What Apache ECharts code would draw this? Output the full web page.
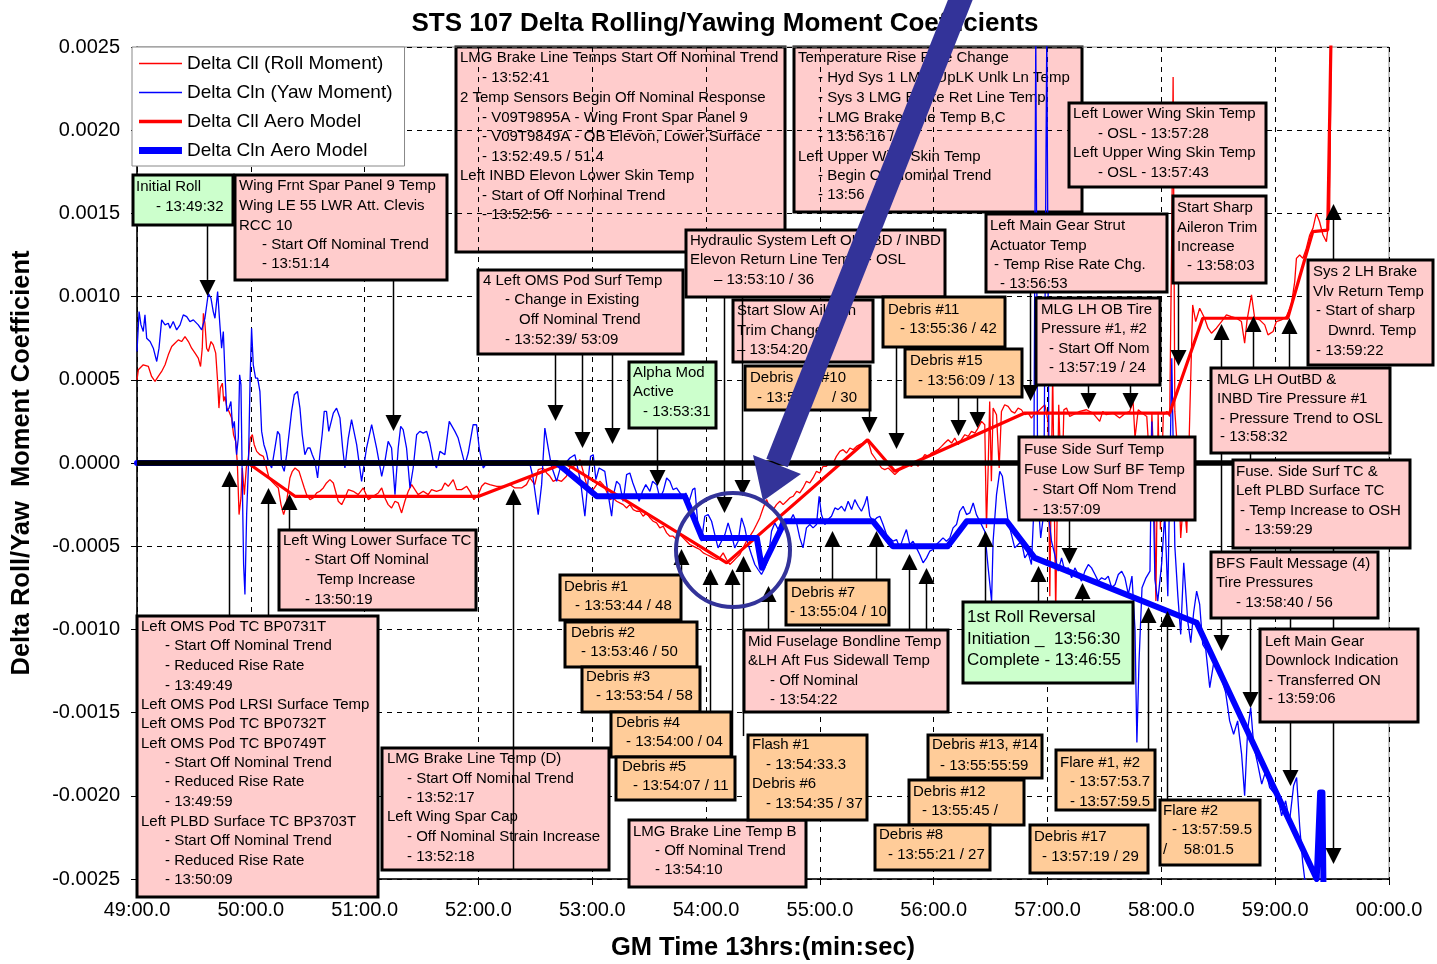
<!DOCTYPE html>
<html>
<head>
<meta charset="utf-8">
<script src="https://cdn.jsdelivr.net/npm/echarts@6.0.0/dist/echarts.min.js"></script>
<style>
html, body { margin: 0; padding: 0; background: #fff; }
#chart { width: 1437px; height: 964px; }
</style>
</head>
<body>
<div id="chart"></div>
<script>
// x values: seconds after 13:49:00 ; y values: units of 1e-4
var Y_UNIT = 1e-4;
var FONT = '"Liberation Sans", Arial, sans-serif';

var xTickLabels = ['49:00.0', '50:00.0', '51:00.0', '52:00.0', '53:00.0', '54:00.0',
    '55:00.0', '56:00.0', '57:00.0', '58:00.0', '59:00.0', '00:00.0'];

// Delta Cll (Roll Moment) - flight data
var cllData = [
[0,5.0],[0.7,5.6],[3.3,5.9],[6,5.8],[7.7,5.2],[9.5,4.9],[11.2,5.2],[13,5.5],[14.8,5.9],[16.5,6.5],[18.3,7.0],[20,7.2],[21.8,7.4],[23.5,7.3],[25.3,7.6],[27.1,7.3],[28.8,6.9],[30.6,6.6],[32.3,6.3],[33.5,5.8],[34.4,6.9],[35,9.0],[35.8,8.4],[36.7,6.9],[37.6,6.7],[39,7.3],[40.2,7.1],[41.5,6.6],[42.5,4.9],[43.2,3.3],[43.9,4.5],[45,4.8],[45.7,3.7],[46.4,4.0],[47.4,3.3],[48.5,3.1],[49.9,2.7],[50.9,1.7],[52,1.3],[52.9,0.0],[53.8,-3.1],[54.8,-2.1],[55.5,-0.3],[56.6,-1.9],[57.6,-0.3],[58.7,0.3],[59.7,1.5],[60.8,1.7],[61.8,1.1],[63.1,0.7],[64.8,0.5],[66.6,0.4],[68.3,-0.3],[69.6,-0.9],[71,-1.1],[72.7,-1.3],[74.5,-1.5],[75.9,-2.5],[77.3,-3.1],[78.3,-2.7],[79.4,-1.9],[80.6,-0.9],[81.9,-0.5],[83.3,-0.3],[84.3,-0.2],[85.4,-0.5],[86.8,-1.0],[88.2,-1.5],[89.4,-1.9],[91.2,-2.2],[92.9,-2.1],[94.7,-1.8],[96.4,-1.7],[98.2,-1.5],[99.9,-1.2],[101.7,-1.0],[103.5,-1.2],
[106.1,-2.3],[107.9,-2.5],[109.6,-2.1],[111.4,-1.6],[114,-1.7],[116.6,-1.9],[119.3,-1.5],[121.9,-2.2],[124.5,-2.0],[127.2,-1.8],[129,-1.5],[130.7,-2.1],[132.4,-2.5],[134.2,-2.7],[136,-2.3],[137.7,-2.4],[139.5,-3.0],[141.2,-2.3],[143,-1.7],[144.8,-1.3],[146.5,-1.6],[148.2,-1.9],[150.9,-1.7],[153.5,-1.9],[155.3,-1.6],[157.9,-1.7],[160.6,-1.6],[162.3,-1.2],[164.1,-1.4],[166.7,-1.0],[168.5,-1.6],[171.1,-1.6],[173.8,-1.4],[175.5,-1.7],[177.6,-2.2],[179.9,-1.9],[181.7,-1.4],[183.4,-1.2],[186,-1.3],[189.6,-1.4],[193.1,-1.4],[196.6,-1.3],[199.2,-1.5],[202.7,-1.5],[205.3,-1.3],[207.1,-0.9],[209.7,-1.3],[211.5,-0.4],[214.1,-0.3],[215.9,-0.6],[217.7,-0.8],[219.4,-1.1],[221.2,-1.0],[223.8,-1.1],
[226.4,-0.8],[228.2,-0.3],[229.9,-0.2],[231.7,-0.1],[233.5,0.2],[235.2,-0.5],[237,-1.3],[238.7,-1.5],[240.5,-1.6],[242.3,-1.3],[244,-1.1],[245.7,-1.3],[247.5,-1.7],[249.3,-2.2],[251,-2.1],[252.8,-2.3],[254.5,-2.4],[256.3,-2.5],[258.1,-2.7],[259.8,-2.5],[261.6,-2.8],[263.3,-2.9],[265.1,-2.9],[266.8,-3.2],[268.6,-3.0],[270.4,-3.3],[272.1,-3.5],[273.9,-3.6],[275.6,-3.9],[277.4,-3.8],[279.2,-4.2],[280.9,-4.4],[282.6,-4.4],[284.4,-4.6],[286.2,-4.3],[287.9,-4.5],[289.7,-4.7],[291.4,-4.9],[293.2,-5.0],[295,-5.1],[296.7,-5.2],[298.5,-5.4],[300.2,-5.5],[302,-5.6],[303.7,-5.7],[305.5,-5.8],[307.2,-5.7],[309,-5.4],[310.8,-5.8],[312.5,-6.1],[314.3,-5.9],[316,-5.7],[317.8,-5.5],[319.5,-5.1],[321.3,-4.7],[323.1,-4.4],[324.8,-4.1],[326.6,-3.7],[328.3,-3.3],[330.1,-2.7],[331.9,-2.2],[333.6,-2.7],[335.4,-2.8],[337.1,-2.5],[338.9,-2.3],[340.6,-2.5],[342.4,-2.3],[344.1,-2.1],
[345.9,-2.0],[347.7,-1.7],[349.4,-1.8],[351.1,-1.5],[352.9,-1.1],[354.7,-1.2],[356.4,-0.9],[358.2,-0.5],[359.9,-0.6],[361.7,-0.2],[363.4,-0.2],[365.2,0.1],[367,0.0],[368.7,0.4],[370.5,0.7],[372.2,0.8],[374,0.6],[375.8,0.9],[377.5,0.8],[379.3,1.0],[381,1.1],[382.8,1.2],[384.6,1.4],[386,1.1],[387.2,0.6],[389,0.3],[390.7,0.0],[392.5,-0.3],[394.2,-0.4],[396,-0.3],[397.8,-0.5],[399.5,-0.7],[401.3,-0.5],[403,-0.3],[404.8,0.0],[406.5,-0.1],[408.3,-0.2],[410.1,0.0],[411.8,-0.2],[413.5,0.2],[415.3,0.5],[417.1,0.4],[418.8,0.6],[420.6,0.7],[422.3,0.8],[424.1,1.0],[425.8,1.2],[427.6,1.4],[429.4,1.2],[431.1,1.5],[432.9,1.1],[434.6,1.4],[436.4,1.7],[438.2,1.6],[439.9,1.9],[441.7,1.8],[443.4,2.1],[445.2,2.5],[446.9,2.3],[447.8,-3.9],[448.7,-0.3],[449.5,3.7],[450.4,-1.1],[451.3,3.3],[453.1,2.9],[454.5,-0.3],[455.7,3.1],[457.4,3.5],[459.2,3.4],[461,3.1],[462.7,3.0],[464.5,3.3],[466.2,3.2],[468,2.9],[469.8,3.0],[471.5,2.7],[473.3,3.0],[475,3.1],[476.8,3.3],[478.6,3.5],[480.3,2.5],[481.2,-8.0],[482.7,5.5],[484.3,-9.0],[485.9,3.5],[487.5,-2.0],[488.6,3.2],[490,3.3],[491.7,2.8],[493.5,2.9],[497,3.1],[500.5,3.2],[503.9,3.0],[507.5,2.5],[509.1,3.1],[511,2.9],[514.5,3.0],[518,2.7],[521.2,3.0],[523.3,3.1],[525.1,3.7],[526.1,1.5],[527.8,3.2],[529.8,3.0],[532.3,2.8],[533.3,1.0],[533.9,-3.1],[535,3.0],[536,0.0],[537.1,-8.3],[538.3,3.0],[539.5,-4.0],[541,2.9],[542.9,3.1],[544.4,2.8],[545.5,14.0],[546.2,23.2],[547.1,3.1],[548.7,0.5],[550.2,-4.5],[551.8,-2.0],[553.4,-4.2],[555,3.0],[556.5,9.5],[558.1,8.5],[560.2,9.3],[562.8,8.7],[564.6,8.1],[566.4,7.8],[569,8.1],[571.7,8.5],[574.3,8.9],[576.9,8.8],[579.6,8.7],[582.2,8.5],[583.9,7.2],[585.2,8.6],[587.5,10.1],[589.2,8.7],[591.8,8.6],[594.5,8.3],[596.2,7.7],[598.9,7.9],[600.6,8.5],[603.3,8.6],[605.9,8.8],[608.5,9.5],[610.3,10.9],[611.2,12.3],[612.9,12.5],[614.6,12.3],[616.4,12.9],[618.2,13.7],[619.9,14.1],[621.7,15.0],[623.4,14.5],[625.2,13.7],[627,13.3],[628.7,15.0],[629.6,26.0]
];

// Delta Cln (Yaw Moment) - flight data
var clnData = [
[0,6.7],[1.1,9.1],[2.1,8.3],[3.3,7.9],[4.2,8.9],[5.1,7.5],[6.9,7.3],[8.6,6.9],[10.4,6.1],[11.6,6.9],[13,8.6],[14.8,8.3],[16.5,8.4],[17.4,8.1],[19.1,8.5],[20.9,8.0],[22.7,8.3],[24.4,8.9],[26.2,8.8],[27.9,8.5],[29.7,8.6],[32.3,8.3],[34.1,8.0],[35.8,8.7],[37.6,10.2],[39,9.9],[40.2,9.1],[41.1,8.7],[42.5,10.3],[43.7,8.3],[44.6,6.9],[45.5,7.9],[46.4,5.3],[47.3,3.1],[48.5,3.3],[49.5,3.7],[50.4,2.1],[51.3,2.5],[52.5,0.5],[53.4,1.5],[54.1,5.3],[54.8,4.7],[55.5,-1.1],[56.2,-6.1],[56.9,-7.9],[57.8,-3.1],[58.7,-0.3],[59.6,4.9],[60.4,8.1],[61.3,5.9],[62.5,5.1],[63.6,5.1],[64.8,4.3],[65.7,1.9],[66.9,1.1],[68.3,0.6],[69.2,0.1],[71,-0.3],[72.7,0.9],[74.1,1.9],[75.2,1.7],[76.3,-0.1],[77.6,-0.5],[78.9,0.5],[80.1,1.7],[81.5,3.1],[82.9,4.1],[84.6,4.3],[85.9,3.3],[87.1,1.7],[88.5,0.5],[90,0.9],[91.2,0.9],[92.4,0.5],[93.8,0.1],[95.2,-0.9],[96.4,0.5],[97.6,1.7],[98.7,3.1],[99.9,3.1],[101.1,1.9],
[103.5,3.0],[105.2,3.3],[107,2.7],[108.4,0.9],[109.6,-0.3],[111.4,1.5],[113.1,2.6],[115.8,1.1],[118.4,-1.1],[121,0.9],[123.7,2.3],[126.3,0.9],[129,-0.8],[130.7,0.1],[132.4,1.3],[134.2,0.9],[136,-1.9],[137.7,0.9],[139,2.2],[140.3,2.0],[142.1,0.9],[143.9,-1.5],[145.6,-0.3],[147.4,1.7],[149.1,1.9],[150.9,1.8],[152.7,1.9],[154.4,1.2],[156.2,0.1],[157.9,-0.3],[159.7,0.7],[162.3,0.5],[164.6,2.5],[167.6,1.9],[169.3,1.5],[171.1,0.7],[172.9,-0.1],[174.6,0.6],[177.2,2.3],[179,2.3],[180.4,0.9],[182.5,-0.3],[184.5,0],[195,0],[207,0],[208.8,-0.9],[211.5,-3.1],[213.3,-1.3],[215,2.1],[216.8,0.9],[218.5,-0.2],[221.2,-1.1],[222.9,-0.4],
[228.2,0.3],[230.8,0.5],[233.8,-1.1],[236.1,-3.2],[237.4,-1.5],[239.1,0.4],[240.5,0.5],[241.9,-1.0],[243.6,-0.3],[246.6,-0.5],[248.4,-1.9],[250.2,-3.2],[251.4,-1.8],[252.8,-1.1],[254.5,-1.3],[256.3,-2.3],[258.1,-0.7],[259.8,-0.6],[261.4,-1.2],[263,-1.7],[264.7,-2.3],[266.5,-1.7],[268.2,-1.3],[270.4,-1.7],[271.8,-1.1],[273.9,-1.3],[275.6,-2.1],[277.4,-1.7],[279.2,-0.9],[280.9,-1.1],[282.6,-1.6],[284.4,-1.5],[286.2,-1.8],[287.9,-2.1],[289.3,-1.8],[291.1,-2.3],[292.9,-1.6],[294.1,-1.5],[295.8,-3.9],[297.6,-4.7],[299.3,-3.2],[301.1,-3.1],[302.9,-3.5],[304.6,-4.3],[306.3,-5.1],[308.1,-4.7],[309.9,-4.3],[311.6,-3.6],[313.4,-4.3],[315.1,-5.1],[316.9,-4.7],[318.7,-3.3],[320.4,-3.9],[322.2,-4.9],[323.9,-5.5],[325.7,-6.1],[327.4,-6.4],[329.2,-6.7],[331,-6.3],[332.7,-5.8],[334.5,-4.1],[336.2,-3.6],[338,-4.0],[339.7,-3.5],[342.4,-3.6],[344.1,-3.5],
[345.9,-3.1],[347.7,-3.6],[349.4,-4.5],[351.1,-5.1],[352.9,-3.9],[354.7,-3.7],[356.4,-3.9],[358.2,-3.7],[359.6,-2.0],[360.8,-3.1],[362.6,-3.7],[364.3,-3.4],[366.1,-3.2],[367.9,-2.7],[369.6,-2.8],[371.4,-2.6],[373.1,-2.9],[374.9,-2.3],[376.7,-2.8],[378.4,-2.2],[380.2,-2.6],[381.9,-2.9],[383.5,-2.5],[384.9,-2.0],[386.3,-3.2],[388.1,-3.5],[389.9,-3.3],[391.6,-3.2],[393.3,-3.7],[395.1,-4.3],[396.8,-4.5],[398.6,-4.7],[400.4,-4.6],[402.1,-5.1],[403.9,-4.5],[405.6,-4.0],[407.4,-4.9],[409.1,-4.7],[410.9,-5.1],[412.6,-5.5],[414.4,-6.0],[416.2,-5.7],[417.9,-5.3],[419.7,-5.2],[421.4,-4.9],[423.2,-4.7],[424.9,-4.5],[426.7,-4.7],[428.5,-4.5],[430.2,-3.9],[432,-3.7],[433.7,-2.9],[435.5,-2.6],[437.3,-3.1],[439,-3.0],[440.8,-2.4],[442.5,-3.1],[444.3,-3.5],[446,-3.9],[446.9,-4.1],[448.7,-6.3],[450.5,-8.3],[451.3,-4.7],[453.1,-1.9],[454.8,-0.5],[456.2,-0.8],[457.4,-1.9],[459.2,-3.5],[461,-4.3],[462.7,-5.1],[464.5,-4.9],[466.2,-4.7],[468,-5.7],[469.8,-5.4],[471.5,-6.1],[472.7,-3.0],[473.8,26],[474.8,-2.0],[476.4,-4.5],[478,-3.0],[479.6,26],[480.9,-3.5],[482.1,-4.7],[483.8,-5.5],[485.6,-6.5],[487.4,-5.7],[489.1,-6.5],[490.9,-6.3],[492.7,-6.9],[494.4,-6.3],[496.2,-6.7],[497.9,-7.1],[499.7,-6.5],[501.5,-6.1],[503.2,-6.3],[505,-6.7],[506.7,-7.1],[508.5,-6.9],[510.3,-7.0],[512,-6.8],[513.8,-7.5],[515.6,-7.3],[517.3,-6.7],[519.1,-6.5],[520.8,-6.9],[522.6,-7.9],[524.5,-6.8],[526.1,-10.0],[527.1,-16.8],[528.2,-12.0],[529.8,-7.5],[531.9,-6.9],[534,-6.5],[535,2.5],[536.6,-7.0],[538.1,-8.3],[540.2,-6.0],[541.8,-3.0],[543.4,-8.0],[545.5,6.3],[547.1,-5.0],[548.7,-8.0],[550.2,-10.3],[551.8,-6.0],[553.9,-9.5],[555.5,-10.8],[557,-9.0],[558.6,-7.7],[560.2,-8.5],[561.8,-10.9],[563.4,-11.2],[565.5,-13.5],[567.6,-12.0],[569.7,-12.5],[571.8,-13.0],[573.9,-13.8],[576,-15.5],[578.1,-16.3],[580.2,-15.5],[582.3,-17.5],[583.9,-20.0],[585.5,-16.0],[587.1,-14.7],[588.7,-17.0],[590.8,-18.1],[592.9,-19.3],[595,-18.5],[597.1,-19.5],[599.2,-19.8],[601.3,-20.0],[603.4,-21.2],[605.5,-20.3],[607.6,-21.5],[609.7,-19.4],[611.3,-18.9],[612.9,-21.8],[614.5,-24.0],[616.1,-25.5],[618.2,-27.0]
];

// aero model predictions
var cllAero = [[0,0],[58.5,0],[83.3,-2.0],[180.2,-2.0],[225.6,0],[310.9,-6.0],[385.2,1.4],[399.5,-0.5],[468,3.0],[544.4,3.0],[561.8,8.7],[606.6,8.7],[619.8,13.9],[627.7,14.0],[629.5,26.0]];
var clnAero = [[0,0],[221.3,0],[242.4,-2.0],[288.8,-2.0],[297.9,-4.5],[326.7,-4.5],[329.4,-6.3],[341.5,-3.5],[387.9,-3.5],[398.4,-5.0],[427.4,-5.0],[437.4,-3.5],[458.5,-3.5],[473.2,-5.7],[558.6,-9.6],[621.9,-25.0],[623.7,-19.8],[624.9,-19.8],[625.5,-26.0]];
var zeroLine = [[0,0],[660,0]];

// event arrows: [sec, tail, tip, drawnOverBoxes]
var arrows = [
[36.9,14.24,10.04],[134.9,10.94,1.92],[220.3,6.49,2.52],[234.5,6.49,0.90],[250.3,6.49,1.14],
[274.0,2.04,-1.38],[309.3,9.92,-3.01],[318.8,9.92,-1.98,1],[385.8,3.13,1.80],[400.0,6.91,0.84],
[432.7,3.91,1.62],[442.7,3.91,2.10],[470.6,10.22,3.73],[501.2,4.63,3.25],[523.3,4.63,3.25],
[548.6,10.76,5.83],[491.2,-3.49,-6.07],[571.3,0.54,-11.30],[586.6,0.54,-14.72],[607.6,-5.17,-19.41],
[630.5,-5.17,-24.10],
[48.5,-9.26,-0.48],[69.0,-9.26,-1.50],[80.1,-4.09,-1.86],[198.2,-24.5,-1.56,1],[286.7,-6.79,-5.17],
[302.0,-15.03,-6.37],[313.5,-17.73,-6.37],[319.3,-16.41,-5.59],[332.5,-10.10,-7.39],[366.3,-7.09,-4.09],
[389.5,-7.09,-4.09],[406.8,-10.10,-5.47],[415.8,-10.10,-6.31],[446.9,-8.41,-4.09],[474.8,-8.41,-6.19],
[498.0,-8.41,-7.21],[532.8,-17.31,-8.65],[542.8,-20.31,-8.89],[571.3,5.65,8.35],[588.1,5.65,8.83],
[607.1,5.65,8.71],[630.5,12.14,15.57]
];

var PINK = '#ffcccc', GREEN = '#ccffcc', ORANGE = '#ffcc99';

// annotation boxes (page layout, pixels)
var boxes = [
 {x:133,y:175,w:100,h:50,c:GREEN,t:[[136,187,'Initial Roll'],[156,207,'- 13:49:32']]},
 {x:235,y:175,w:212,h:105,c:PINK,t:[[239,186,'Wing Frnt Spar Panel 9 Temp'],[239,206,'Wing LE 55 LWR Att. Clevis'],[239,226,'RCC 10'],[262,245,'- Start Off Nominal Trend'],[262,264,'- 13:51:14']]},
 {back:1,x:456,y:47,w:329,h:205,c:PINK,t:[[460,58,'LMG Brake Line Temps Start Off Nominal Trend'],[482,78,'- 13:52:41'],[460,98,'2 Temp Sensors Begin Off Nominal Response'],[482,118,'- V09T9895A - Wing Front Spar Panel 9'],[482,137,'- V09T9849A - OB Elevon, Lower Surface'],[482,157,'- 13:52:49.5 / 51.4'],[460,176,'Left INBD Elevon Lower Skin Temp'],[482,196,'- Start of Off Nominal Trend'],[482,215,'- 13:52:56']]},
 {back:1,x:794,y:47,w:288,h:165,c:PINK,t:[[798,58,'Temperature Rise Rate Change'],[818,78,'- Hyd Sys 1 LMG UpLK Unlk Ln Temp'],[818,98,'- Sys 3 LMG Brake Ret Line Temp'],[818,118,'- LMG Brake Line Temp B,C'],[818,137,'- 13:56:16 /'],[798,157,'Left Upper Wing Skin Temp'],[818,176,'- Begin Off Nominal Trend'],[818,195,'- 13:56']]},
 {x:686,y:230,w:259,h:67,c:PINK,t:[[690,241,'Hydraulic System Left OUTBD / INBD'],[690,260,'Elevon Return Line Temp  - OSL'],[714,280,'\u2013 13:53:10 / 36']]},
 {x:478,y:270,w:205,h:84,c:PINK,t:[[483,281,'4 Left OMS Pod Surf Temp'],[505,300,'- Change in Existing'],[519,320,'Off Nominal Trend'],[505,340,'- 13:52:39/ 53:09']]},
 {x:733,y:300,w:140,h:62,c:PINK,t:[[737,311,'Start Slow Aileron'],[737,331,'Trim Change'],[737,350,'\u2013 13:54:20']]},
 {x:745,y:366,w:125,h:44,c:ORANGE,t:[[750,378,'Debris'],[821,378,'#10'],[757,398,'- 13:5'],[832,398,'/ 30']]},
 {x:629,y:362,w:87,h:66,c:GREEN,t:[[633,373,'Alpha Mod'],[633,392,'Active'],[643,412,'- 13:53:31']]},
 {x:883,y:297,w:122,h:50,c:ORANGE,t:[[888,310,'Debris #11'],[900,329,'- 13:55:36 / 42']]},
 {x:905,y:349,w:117,h:48,c:ORANGE,t:[[910,361,'Debris #15'],[918,381,'- 13:56:09 / 13']]},
 {x:986,y:214,w:181,h:78,c:PINK,t:[[990,226,'Left Main Gear Strut'],[990,246,'Actuator Temp'],[994,265,'- Temp Rise Rate Chg.'],[1000,284,'- 13:56:53']]},
 {x:1069,y:103,w:197,h:84,c:PINK,t:[[1073,114,'Left Lower Wing Skin Temp'],[1098,134,'- OSL - 13:57:28'],[1073,153,'Left Upper Wing Skin Temp'],[1098,173,'- OSL - 13:57:43']]},
 {x:1173,y:196,w:93,h:87,c:PINK,t:[[1177,208,'Start Sharp'],[1177,228,'Aileron Trim'],[1177,247,'Increase'],[1187,266,'- 13:58:03']]},
 {x:1036,y:298,w:124,h:87,c:PINK,t:[[1041,310,'MLG LH OB Tire'],[1041,329,'Pressure #1, #2'],[1049,349,'- Start Off Nom'],[1049,368,'- 13:57:19 / 24']]},
 {x:1308,y:260,w:125,h:105,c:PINK,t:[[1313,272,'Sys 2 LH Brake'],[1313,292,'Vlv Return Temp'],[1316,311,'- Start of sharp'],[1328,331,'Dwnrd. Temp'],[1316,351,'- 13:59:22']]},
 {x:1211,y:368,w:179,h:85,c:PINK,t:[[1217,380,'MLG LH OutBD &'],[1217,399,'INBD Tire Pressure #1'],[1220,419,'- Pressure Trend to OSL'],[1220,437,'- 13:58:32']]},
 {x:1019,y:437,w:176,h:83,c:PINK,t:[[1024,450,'Fuse Side Surf Temp'],[1024,470,'Fuse Low Surf BF Temp'],[1033,490,'- Start Off Nom Trend'],[1033,510,'- 13:57:09']]},
 {x:1233,y:460,w:177,h:88,c:PINK,t:[[1236,472,'Fuse. Side Surf TC &'],[1236,491,'Left PLBD Surface TC'],[1240,511,'- Temp Increase to OSH'],[1245,530,'- 13:59:29']]},
 {x:279,y:530,w:197,h:80,c:PINK,t:[[283,541,'Left Wing Lower Surface TC'],[305,560,'- Start Off Nominal'],[317,580,'Temp Increase'],[305,600,'- 13:50:19']]},
 {x:137,y:616,w:241,h:281,c:PINK,t:[[141,627,'Left OMS Pod TC BP0731T'],[165,646,'- Start Off Nominal Trend'],[165,666,'- Reduced Rise Rate'],[165,686,'- 13:49:49'],[141,705,'Left OMS Pod LRSI Surface Temp'],[141,724,'Left OMS Pod TC BP0732T'],[141,744,'Left OMS Pod TC BP0749T'],[165,763,'- Start Off Nominal Trend'],[165,782,'- Reduced Rise Rate'],[165,802,'- 13:49:59'],[141,822,'Left PLBD Surface TC BP3703T'],[165,841,'- Start Off Nominal Trend'],[165,861,'- Reduced Rise Rate'],[165,880,'- 13:50:09']]},
 {x:382,y:748,w:227,h:122,c:PINK,t:[[387,759,'LMG Brake Line Temp (D)'],[407,779,'- Start Off Nominal Trend'],[407,798,'- 13:52:17'],[387,817,'Left Wing Spar Cap'],[407,837,'- Off Nominal Strain Increase'],[407,857,'- 13:52:18']]},
 {x:560,y:575,w:121,h:45,c:ORANGE,t:[[564,587,'Debris #1'],[575,606,'- 13:53:44 / 48']]},
 {x:565,y:622,w:132,h:45,c:ORANGE,t:[[571,633,'Debris #2'],[581,652,'- 13:53:46 / 50']]},
 {x:582,y:667,w:118,h:45,c:ORANGE,t:[[586,677,'Debris #3'],[596,696,'- 13:53:54 / 58']]},
 {x:611,y:712,w:120,h:45,c:ORANGE,t:[[616,723,'Debris #4'],[626,742,'- 13:54:00 / 04']]},
 {x:616,y:757,w:119,h:43,c:ORANGE,t:[[622,767,'Debris #5'],[633,786,'- 13:54:07 / 11']]},
 {x:629,y:820,w:177,h:67,c:PINK,t:[[633,832,'LMG Brake Line Temp B'],[655,851,'- Off Nominal Trend'],[655,870,'- 13:54:10']]},
 {x:786,y:580,w:103,h:45,c:ORANGE,t:[[791,593,'Debris #7'],[790,612,'- 13:55:04 / 10']]},
 {x:744,y:630,w:204,h:82,c:PINK,t:[[748,642,'Mid Fuselage Bondline Temp'],[748,661,'&LH Aft Fus Sidewall Temp'],[770,681,'- Off Nominal'],[770,700,'- 13:54:22']]},
 {x:748,y:735,w:119,h:85,c:ORANGE,t:[[752,745,'Flash #1'],[766,765,'- 13:54:33.3'],[752,784,'Debris #6'],[766,804,'- 13:54:35 / 37']]},
 {x:928,y:735,w:114,h:43,c:ORANGE,t:[[932,745,'Debris #13, #14'],[940,766,'- 13:55:55:59']]},
 {x:909,y:780,w:115,h:45,c:ORANGE,t:[[913,792,'Debris #12'],[922,811,'- 13:55:45 /']]},
 {x:875,y:825,w:115,h:45,c:ORANGE,t:[[879,835,'Debris #8'],[888,855,'- 13:55:21 / 27']]},
 {x:963,y:602,w:170,h:81,c:GREEN,f:17,t:[[967,617,'1st Roll Reversal'],[967,639,'Initiation _  13:56:30'],[967,660,'Complete - 13:46:55']]},
 {x:1056,y:750,w:99,h:60,c:ORANGE,t:[[1060,763,'Flare #1, #2'],[1070,782,'- 13:57:53.7'],[1070,802,'- 13:57:59.5']]},
 {x:1030,y:825,w:118,h:48,c:ORANGE,t:[[1034,837,'Debris #17'],[1042,857,'- 13:57:19 / 29']]},
 {x:1160,y:800,w:100,h:65,c:ORANGE,t:[[1163,811,'Flare #2'],[1172,830,'- 13:57:59.5'],[1163,850,'/    58:01.5']]},
 {x:1211,y:552,w:167,h:66,c:PINK,t:[[1216,564,'BFS Fault Message (4)'],[1216,583,'Tire Pressures'],[1236,603,'- 13:58:40 / 56']]},
 {x:1260,y:629,w:158,h:93,c:PINK,t:[[1265,642,'Left Main Gear'],[1265,661,'Downlock Indication'],[1268,681,'- Transferred ON'],[1268,699,'- 13:59:06']]}
];

function scaled(arr) {
    return arr.map(function (p) { return [p[0], p[1] * Y_UNIT]; });
}

// legend icon: a horizontal bar of given thickness inside a 14px high box
function lineIcon(w) {
    var a = (7 - w / 2).toFixed(2), b = (7 + w / 2).toFixed(2);
    return 'path://M0,0L43,0L43,0.01L0,0.01Z M0,' + a + 'L43,' + a + 'L43,' + b + 'L0,' + b +
        'Z M0,14L43,14L43,14.01L0,14.01Z';
}

var option = {
    animation: false,
    backgroundColor: '#fff',
    textStyle: { fontFamily: FONT, color: '#000' },
    grid: {
        left: 137, right: 48, top: 47, bottom: 85,
        outerBoundsMode: 'none', containLabel: false,
        show: true, borderColor: '#888', borderWidth: 1
    },
    legend: {
        data: [
            { name: 'Delta Cll (Roll Moment)', icon: lineIcon(1.6) },
            { name: 'Delta Cln (Yaw Moment)', icon: lineIcon(1.6) },
            { name: 'Delta Cll Aero Model', icon: lineIcon(3.5) },
            { name: 'Delta Cln Aero Model', icon: lineIcon(7) }
        ],
        orient: 'vertical', left: 132, top: 47,
        backgroundColor: '#fff', borderColor: '#888', borderWidth: 1,
        padding: [7, 12, 6, 7], itemGap: 10, itemWidth: 43, itemHeight: 14,
        itemStyle: { borderWidth: 0 },
        textStyle: { fontSize: 19, fontFamily: FONT, color: '#000' },
        selectedMode: false
    },
    xAxis: {
        type: 'value', min: 0, max: 660, interval: 60,
        name: 'GM Time 13hrs:(min:sec)', nameLocation: 'middle', nameGap: 56,
        nameTextStyle: { fontSize: 25.5, fontWeight: 'bold', fontFamily: FONT, color: '#000' },
        axisLine: { onZero: false, lineStyle: { color: '#000', width: 1.5 } },
        axisTick: { show: true, length: 6, lineStyle: { color: '#000' } },
        axisLabel: {
            fontSize: 20, color: '#000', fontFamily: FONT, margin: 21,
            showMinLabel: true, showMaxLabel: true,
            formatter: function (v) { return xTickLabels[Math.round(v / 60)]; }
        },
        splitLine: { show: true, lineStyle: { color: '#000', width: 1, type: [5, 5] } }
    },
    yAxis: {
        type: 'value', min: -0.0025, max: 0.0025, interval: 0.0005,
        name: 'Delta Roll/Yaw  Moment Coefficient', nameLocation: 'middle', nameGap: 102,
        nameTextStyle: { fontSize: 25.5, fontWeight: 'bold', fontFamily: FONT, color: '#000' },
        axisLine: { show: true, lineStyle: { color: '#000', width: 1.5 } },
        axisTick: { show: true, length: 6, lineStyle: { color: '#000' } },
        axisLabel: {
            fontSize: 20, color: '#000', fontFamily: FONT, margin: 17,
            showMinLabel: true, showMaxLabel: true,
            formatter: function (v) { return v.toFixed(4); }
        },
        splitLine: { show: true, lineStyle: { color: '#000', width: 1, type: [5, 5] } }
    },
    series: [
        { name: 'Delta Cll (Roll Moment)', type: 'line', data: scaled(cllData), symbol: 'none',
          lineStyle: { color: '#ff0000', width: 1.3 }, itemStyle: { color: '#ff0000' } },
        { name: 'Delta Cln (Yaw Moment)', type: 'line', data: scaled(clnData), symbol: 'none',
          lineStyle: { color: '#0000ff', width: 1.3 }, itemStyle: { color: '#0000ff' } },
        { name: 'Delta Cll Aero Model', type: 'line', data: scaled(cllAero), symbol: 'none',
          lineStyle: { color: '#ff0000', width: 3.2 }, itemStyle: { color: '#ff0000' } },
        { name: 'Delta Cln Aero Model', type: 'line', data: scaled(clnAero), symbol: 'none',
          lineStyle: { color: '#0000ff', width: 6, cap: 'round', join: 'round' }, itemStyle: { color: '#0000ff' } },
        { name: 'zero', type: 'line', data: scaled(zeroLine), symbol: 'none',
          lineStyle: { color: '#000', width: 5.5 }, itemStyle: { color: '#000' } }
    ]
};

var chart = echarts.init(document.getElementById('chart'));
chart.setOption(option);

function toPx(sec, v) {
    return chart.convertToPixel({ gridIndex: 0 }, [sec, v * Y_UNIT]);
}

function txt(x, y, s, font, z, align) {
    return {
        type: 'text', z: z, silent: true,
        style: { text: s, x: x, y: y, font: font, fill: '#000',
                 align: align || 'left', verticalAlign: 'middle',
                 textAlign: align || 'left', textVerticalAlign: 'middle' }
    };
}

var gfx = [];
var zz = 10;

// boxes
boxes.forEach(function (b) {
    var z = b.back ? -3 : (zz += 2);
    var font = (b.f || 15) + 'px ' + FONT;
    gfx.push({ type: 'rect', z: z, silent: true,
        shape: { x: b.x, y: b.y, width: b.w, height: b.h },
        style: { fill: b.c, stroke: '#000', lineWidth: 3 } });
    b.t.forEach(function (l) { gfx.push(txt(l[0], l[1], l[2], font, z + 1)); });
});

// arrows
arrows.forEach(function (a) {
    var p1 = toPx(a[0], a[1]);
    var p2 = toPx(a[0], a[2]);
    var x = Math.round(p1[0]) + 0.5;
    var dir = p2[1] > p1[1] ? 1 : -1;
    var z = a[3] ? 500 : 5;
    var baseY = p2[1] - dir * 16;
    gfx.push({ type: 'line', z: z, silent: true,
        shape: { x1: x, y1: p1[1], x2: x, y2: baseY },
        style: { stroke: '#000', lineWidth: 1.5 } });
    gfx.push({ type: 'polygon', z: z, silent: true,
        shape: { points: [[x, p2[1]], [x - 8, baseY], [x + 8, baseY]] },
        style: { fill: '#000' } });
});

// title
gfx.push(txt(725, 24, 'STS 107 Delta Rolling/Yawing Moment Coefficients', 'bold 26px ' + FONT, 50, 'center'));

// highlight arrow and circle
gfx.push({ type: 'circle', z: 600, silent: true,
    shape: { cx: 733, cy: 550, r: 57 },
    style: { fill: 'none', stroke: '#333399', lineWidth: 4 } });
gfx.push({ type: 'line', z: 600, silent: true,
    shape: { x1: 965, y1: -12, x2: 777, y2: 463 },
    style: { stroke: '#333399', lineWidth: 23 } });
gfx.push({ type: 'polygon', z: 600, silent: true,
    shape: { points: [[753, 455], [801, 474], [763, 501]] },
    style: { fill: '#333399' } });

chart.setOption({ graphic: gfx });
</script>
</body>
</html>
